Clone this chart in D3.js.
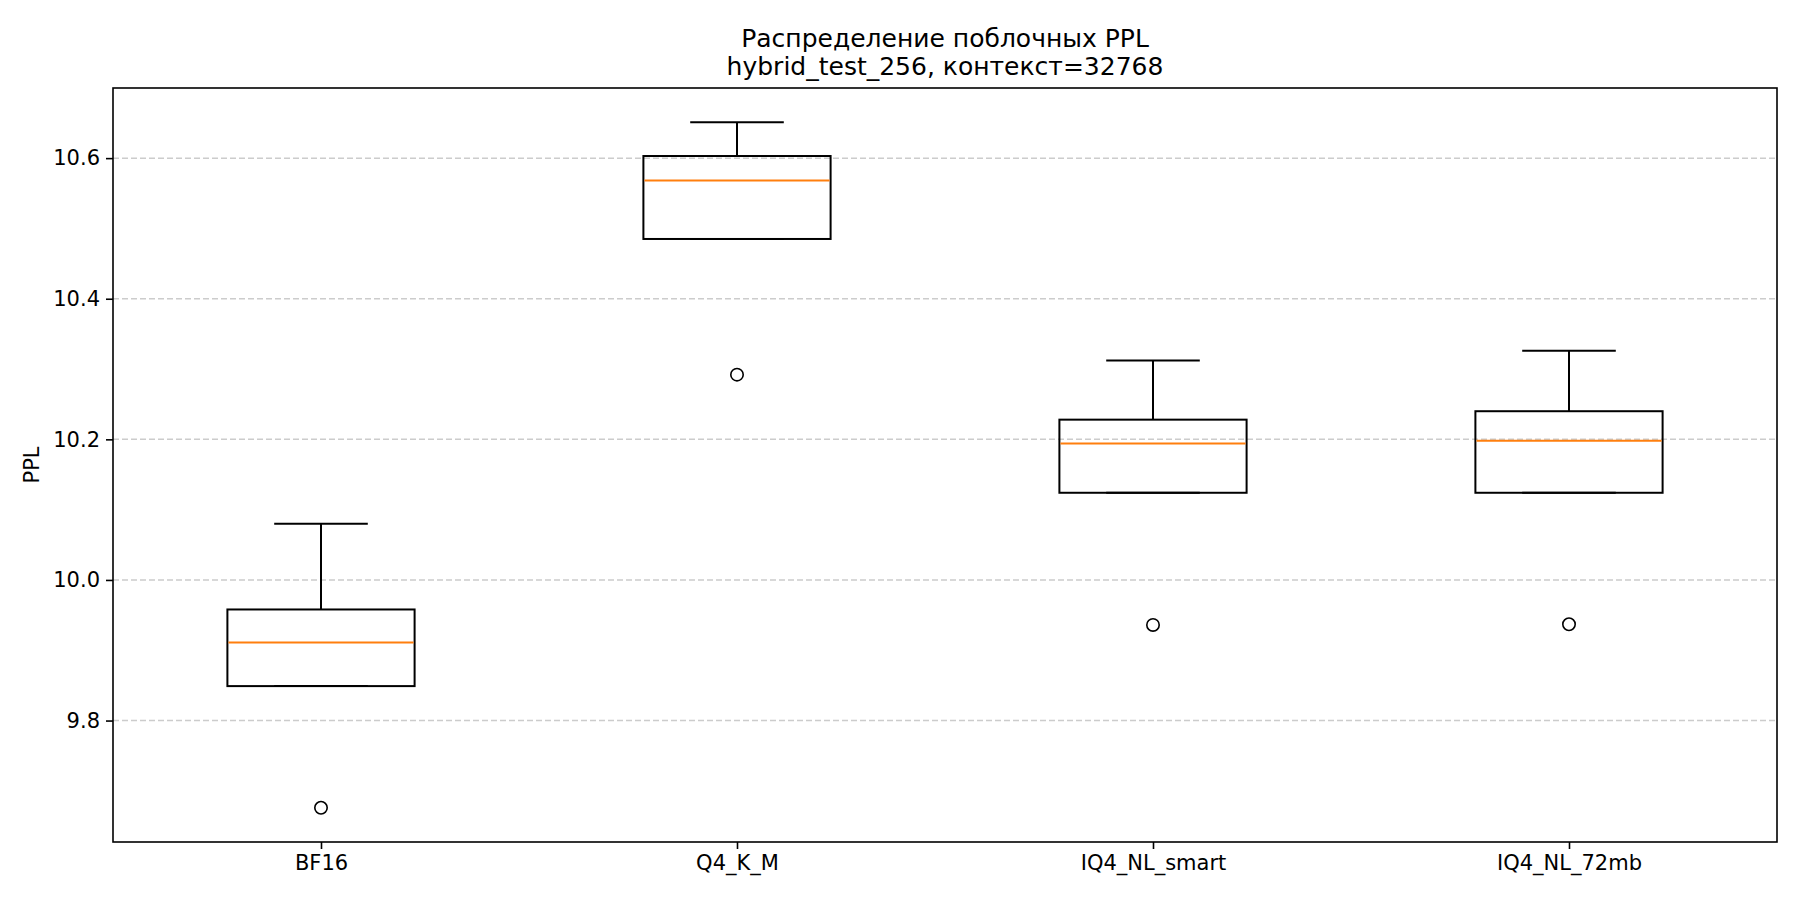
<!DOCTYPE html>
<html lang="ru">
    <head>
        <meta charset="utf-8">
        <title>Распределение поблочных PPL</title>
        <script type="text/javascript" src="https://d3js.org/d3.v7.min.js"></script>
        <style type="text/css">
            body {
                margin: 0;
                background-color: #ffffff;
            }
            svg {
                display: block;
                font-family: "DejaVu Sans", sans-serif;
            }
            .tick text {
                font-size: 21px;
                fill: #000000;
            }
        </style>
    </head>
    <body>
        <svg width="1800" height="900"></svg>
        <script type="text/javascript">

            // data: five-number summary per quantization
            const categories = ["BF16", "Q4_K_M", "IQ4_NL_smart", "IQ4_NL_72mb"];
            const whiskerLow = [9.849, 10.485, 10.124, 10.124];
            const q1 = [9.849, 10.485, 10.124, 10.124];
            const medians = [9.911, 10.568, 10.194, 10.198];
            const q3 = [9.958, 10.603, 10.228, 10.240];
            const whiskerHigh = [10.080, 10.651, 10.312, 10.326];
            const outliers = [[9.676], [10.292], [9.936], [9.937]];
            const yTicks = [9.8, 10.0, 10.2, 10.4, 10.6];

            const svg = d3.select("svg");
            const W = 1800, H = 900;
            const margin = {top: 88, right: 23, bottom: 58, left: 113};
            const plotL = margin.left, plotR = W - margin.right;
            const plotT = margin.top, plotB = H - margin.bottom;

            svg.append("rect")
                .attr("width", W)
                .attr("height", H)
                .attr("fill", "#ffffff");

            // y range like matplotlib autoscale (5% margins)
            const allVals = whiskerLow.concat(whiskerHigh, outliers.flat());
            const lo = d3.min(allVals), hi = d3.max(allVals);
            const pad = (hi - lo) * 0.05;

            const y = d3.scaleLinear()
                .domain([lo - pad, hi + pad])
                .range([plotB, plotT]);

            // positions 1..n, limits [0.5, n+0.5]
            const x = d3.scaleLinear()
                .domain([0.5, categories.length + 0.5])
                .range([plotL, plotR]);

            const boxW = x(1.45) - x(1);   // width 0.45 in data units
            const capW = boxW / 2;

            // grid (y only, dashed)
            svg.append("g")
                .selectAll("line")
                .data(yTicks)
                .enter()
                .append("line")
                .attr("x1", plotL)
                .attr("x2", plotR)
                .attr("y1", d => y(d))
                .attr("y2", d => y(d))
                .attr("stroke", "#cccccc")
                .attr("stroke-width", 1.5)
                .attr("stroke-dasharray", "6,3");

            // axes
            const yAxis = svg.append("g")
                .attr("transform", "translate(" + plotL + ",0)")
                .call(d3.axisLeft(y).tickValues(yTicks).tickFormat(d3.format(".1f"))
                    .tickSize(7).tickPadding(6));

            const xAxis = svg.append("g")
                .attr("transform", "translate(0," + plotB + ")")
                .call(d3.axisBottom(x).tickValues(d3.range(1, categories.length + 1))
                    .tickFormat(d => categories[d - 1])
                    .tickSize(7).tickPadding(6));

            [yAxis, xAxis].forEach(function (a) {
                a.select(".domain").remove();
                a.selectAll(".tick line").attr("stroke", "#000000").attr("stroke-width", 1.6);
                a.selectAll(".tick text").style("font-family", "DejaVu Sans, sans-serif");
            });

            // boxes
            const groups = svg.selectAll("g.box")
                .data(categories)
                .enter()
                .append("g")
                .attr("class", "box");

            groups.append("line")   // lower whisker
                .attr("x1", (d, i) => x(i + 1)).attr("x2", (d, i) => x(i + 1))
                .attr("y1", (d, i) => y(q1[i])).attr("y2", (d, i) => y(whiskerLow[i]))
                .attr("stroke", "#000000").attr("stroke-width", 2);

            groups.append("line")   // upper whisker
                .attr("x1", (d, i) => x(i + 1)).attr("x2", (d, i) => x(i + 1))
                .attr("y1", (d, i) => y(q3[i])).attr("y2", (d, i) => y(whiskerHigh[i]))
                .attr("stroke", "#000000").attr("stroke-width", 2);

            groups.append("line")   // lower cap
                .attr("x1", (d, i) => x(i + 1) - capW / 2).attr("x2", (d, i) => x(i + 1) + capW / 2)
                .attr("y1", (d, i) => y(whiskerLow[i])).attr("y2", (d, i) => y(whiskerLow[i]))
                .attr("stroke", "#000000").attr("stroke-width", 2);

            groups.append("line")   // upper cap
                .attr("x1", (d, i) => x(i + 1) - capW / 2).attr("x2", (d, i) => x(i + 1) + capW / 2)
                .attr("y1", (d, i) => y(whiskerHigh[i])).attr("y2", (d, i) => y(whiskerHigh[i]))
                .attr("stroke", "#000000").attr("stroke-width", 2);

            groups.append("rect")
                .attr("x", (d, i) => x(i + 1) - boxW / 2)
                .attr("width", boxW)
                .attr("y", (d, i) => y(q3[i]))
                .attr("height", (d, i) => y(q1[i]) - y(q3[i]))
                .attr("fill", "none")
                .attr("stroke", "#000000")
                .attr("stroke-width", 2);

            groups.append("line")   // median
                .attr("x1", (d, i) => x(i + 1) - boxW / 2 + 1).attr("x2", (d, i) => x(i + 1) + boxW / 2 - 1)
                .attr("y1", (d, i) => y(medians[i])).attr("y2", (d, i) => y(medians[i]))
                .attr("stroke", "#ff7f0e").attr("stroke-width", 2);

            groups.selectAll("circle")
                .data((d, i) => outliers[i].map(v => ({pos: i + 1, v: v})))
                .enter()
                .append("circle")
                .attr("cx", d => x(d.pos))
                .attr("cy", d => y(d.v))
                .attr("r", 6.2)
                .attr("fill", "none")
                .attr("stroke", "#000000")
                .attr("stroke-width", 1.6);

            // frame
            svg.append("rect")
                .attr("x", plotL).attr("y", plotT)
                .attr("width", plotR - plotL).attr("height", plotB - plotT)
                .attr("fill", "none")
                .attr("stroke", "#000000")
                .attr("stroke-width", 1.6);

            // title
            const title = svg.append("text")
                .attr("text-anchor", "middle")
                .attr("font-size", "25px")
                .attr("fill", "#000000");
            title.append("tspan").attr("x", (plotL + plotR) / 2).attr("y", 46.5)
                .text("Распределение поблочных PPL");
            title.append("tspan").attr("x", (plotL + plotR) / 2).attr("y", 74.5)
                .text("hybrid_test_256, контекст=32768");

            // y label
            svg.append("text")
                .attr("transform", "translate(39," + ((plotT + plotB) / 2) + ") rotate(-90)")
                .attr("text-anchor", "middle")
                .attr("font-size", "21px")
                .attr("fill", "#000000")
                .text("PPL");

        </script>
    </body>
</html>
